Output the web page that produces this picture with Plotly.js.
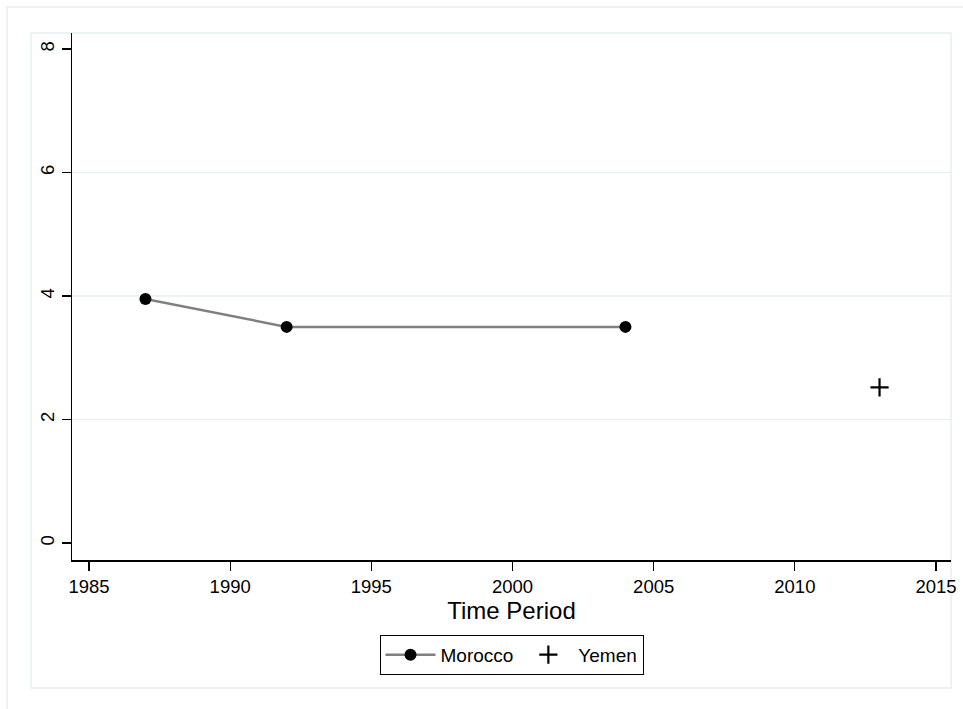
<!DOCTYPE html>
<html>
<head>
<meta charset="utf-8">
<script src="https://cdn.plot.ly/plotly-3.0.1.min.js"></script>
<style>
  html, body { margin: 0; padding: 0; background: #ffffff; }
  #chart { width: 963px; height: 709px; }
</style>
</head>
<body>
<div id="chart"></div>
<script>
// Series values
const moroccoYears = [1987, 1992, 2004];
const moroccoValues = [3.95, 3.5, 3.5];
const yemenYears = [2013];
const yemenValues = [2.52];

// Axis ticks
const xTickVals = [1985, 1990, 1995, 2000, 2005, 2010, 2015];
const yTickVals = [0, 2, 4, 6, 8];
const yGridVals = [2, 4, 6];

const FONT = 'Arial, "Liberation Sans", sans-serif';
const FRAME = '#e8f0f1';

const traces = [
  {
    x: moroccoYears, y: moroccoValues, name: 'Morocco',
    type: 'scatter', mode: 'lines+markers',
    line: { color: '#808080', width: 2.5 },
    marker: { symbol: 'circle', size: 12, color: '#000000' }
  },
  {
    x: yemenYears, y: yemenValues, name: 'Yemen',
    type: 'scatter', mode: 'markers',
    marker: { symbol: 'cross-thin', size: 13, color: '#000000',
              line: { color: '#000000', width: 2.2 } }
  }
];

// Light grid lines spanning the plot width
const shapes = yGridVals.map(v => ({
  type: 'line', layer: 'below', xref: 'paper', yref: 'y',
  x0: 0, x1: 1, y0: v, y1: v,
  line: { color: FRAME, width: 1.5 }
}));
// Plot-region outline and outer graph frame
shapes.push({
  type: 'rect', layer: 'below', xref: 'paper', yref: 'paper',
  x0: -0.0466, x1: 1.0, y0: -0.2429, y1: 1.0,
  line: { color: FRAME, width: 1.5 }
});
shapes.push({
  type: 'rect', layer: 'below', xref: 'paper', yref: 'paper',
  x0: -0.0739, x1: 1.05, y0: -0.35, y1: 1.0493,
  line: { color: FRAME, width: 1.5 }
});

const layout = {
  width: 963, height: 709,
  paper_bgcolor: '#ffffff', plot_bgcolor: '#ffffff',
  margin: { l: 72, r: 12, t: 33, b: 149 },
  font: { family: FONT, size: 18, color: '#000000' },
  showlegend: true,
  legend: {
    orientation: 'h', x: 0.5, xanchor: 'center', y: -0.142, yanchor: 'top',
    bordercolor: '#000000', borderwidth: 1,
    font: { family: FONT, size: 19, color: '#000000' },
    itemwidth: 50
  },
  xaxis: {
    range: [1984.398, 2015.531],
    tickmode: 'array', tickvals: xTickVals,
    ticks: 'outside', ticklen: 9, tickwidth: 1.2, tickcolor: '#000000',
    showline: true, linecolor: '#000000', linewidth: 1.5,
    showgrid: false, zeroline: false,
    tickfont: { family: FONT, size: 18.5, color: '#000000' },
    title: { text: 'Time Period', font: { family: FONT, size: 24, color: '#000000' }, standoff: 4 }
  },
  yaxis: {
    range: [-0.275, 8.259],
    tickmode: 'array', tickvals: yTickVals,
    ticks: 'outside', ticklen: 9, tickwidth: 1.2, tickcolor: '#000000',
    showline: true, linecolor: '#000000', linewidth: 1.5,
    showgrid: false, zeroline: false, tickangle: -90,
    tickfont: { family: FONT, size: 18.5, color: '#000000' }
  },
  shapes: shapes
};

Plotly.newPlot('chart', traces, layout, { displayModeBar: false, staticPlot: true });
</script>
</body>
</html>
